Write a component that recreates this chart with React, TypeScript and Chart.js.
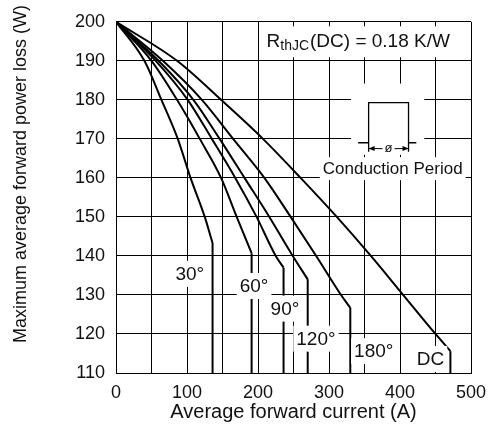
import React, { useEffect, useRef } from 'react';
import { Chart, registerables } from 'chart.js';

Chart.register(...registerables);

// ---- data ----
const xMin = 0;
const xMax = 500;
const yMin = 110;
const yMax = 200;
const xStep = 50;
const yStep = 10;

const curveNames = ['30°', '60°', '90°', '120°', '180°', 'DC'];

const i30 = [0, 40, 64, 87, 105, 125, 136];
const p30 = [200, 190, 180, 170, 160, 150, 143.3];
const i60 = [0, 50, 86, 118, 148, 170, 191];
const p60 = [200, 190, 180, 170, 160, 150, 140.7];
const i90 = [0, 56, 101, 135, 168, 198, 225, 236];
const p90 = [200, 190, 180, 170, 160, 150, 140, 137];
const i120 = [0, 60, 109, 146, 181, 216, 249, 270];
const p120 = [200, 190, 180, 170, 160, 150, 140, 134];
const i180 = [0, 66, 121, 165, 209, 246, 282, 317, 330];
const p180 = [200, 190, 180, 170, 160, 150, 140, 130, 126.7];
const iDC = [0, 86, 148, 207, 260, 311, 359, 400, 450, 471];
const pDC = [200, 190, 180, 170, 160, 150, 140, 131, 120, 115.6];

const curveI = [i30, i60, i90, i120, i180, iDC];
const curveP = [p30, p60, p90, p120, p180, pDC];

// label anchor positions (data units)
const labelX = [104, 194.5, 238, 281.6, 363, 443];
const labelY = [135.4, 132.3, 126.5, 118.8, 115.6, 113.6];

const rthMain = 'R';
const rthSub = 'thJC';
const rthRest = '(DC) = 0.18 K/W';
const rthX = 212;
const rthY = 195;

const insetText = 'Conduction Period';
const insetTextX = 389.7;
const insetTextY = 162.5;
const pulseX = [341, 355.8, 412, 423];
const pulseLow = 169;
const pulseHigh = 179.3;
const pulseTickBottom = 166.7;
const dimY = 167.5;
const dimSymbol = 'ø';

const xTitle = 'Average forward current (A)';
const yTitle = 'Maximum average forward power loss (W)';
const yTitleCenter = 161; // data value the vertical title is centred on

const FONT = "'Liberation Sans', Arial, Helvetica, sans-serif";

const annotations = {
  id: 'annotations',
  afterDraw(chart: any) {
    const { ctx, scales } = chart;
    const y = scales.y;
    ctx.save();
    ctx.translate(21, y.getPixelForValue(yTitleCenter));
    ctx.rotate(-Math.PI / 2);
    ctx.font = `18px ${FONT}`;
    ctx.textAlign = 'center';
    ctx.textBaseline = 'middle';
    ctx.fillStyle = '#111';
    ctx.fillText(yTitle, 0, 0);
    ctx.restore();
  },
  afterDatasetsDraw(chart: any) {
    const { ctx, scales } = chart;
    const x = scales.x;
    const y = scales.y;
    ctx.save();
    ctx.textBaseline = 'middle';

    // curve labels with white boxes
    ctx.font = `19px ${FONT}`;
    ctx.textAlign = 'center';
    curveNames.forEach((name, k) => {
      const cx = x.getPixelForValue(labelX[k]);
      const cy = y.getPixelForValue(labelY[k]);
      const w = ctx.measureText(name).width;
      ctx.fillStyle = '#fff';
      ctx.fillRect(cx - w / 2 - 3, cy - 13, w + 6, 26);
      ctx.fillStyle = '#111';
      ctx.fillText(name, cx, cy + 1);
    });

    // Rth text
    const rx = x.getPixelForValue(rthX);
    const ry = y.getPixelForValue(rthY);
    ctx.textAlign = 'left';
    ctx.font = `19px ${FONT}`;
    const wR = ctx.measureText(rthMain).width;
    const wRest = ctx.measureText(rthRest).width;
    ctx.font = `14px ${FONT}`;
    const wSub = ctx.measureText(rthSub).width;
    const total = wR + wSub + wRest;
    ctx.fillStyle = '#fff';
    ctx.fillRect(rx - 5, ry - 15, total + 12, 31);
    ctx.fillStyle = '#111';
    ctx.font = `19px ${FONT}`;
    ctx.fillText(rthMain, rx, ry);
    ctx.font = `14px ${FONT}`;
    ctx.fillText(rthSub, rx + wR, ry + 5);
    ctx.font = `19px ${FONT}`;
    ctx.fillText(rthRest, rx + wR + wSub + 1, ry);

    // inset: pulse symbol
    const px = pulseX.map((v) => x.getPixelForValue(v));
    const yLow = y.getPixelForValue(pulseLow);
    const yHigh = y.getPixelForValue(pulseHigh);
    const yTick = y.getPixelForValue(pulseTickBottom);
    const yDim = y.getPixelForValue(dimY);
    ctx.fillStyle = '#fff';
    ctx.fillRect(px[0] - 7, yHigh - 19, px[3] - px[0] + 15, yTick - yHigh + 22);

    ctx.font = `17px ${FONT}`;
    ctx.textAlign = 'center';
    const tx = x.getPixelForValue(insetTextX);
    const ty = y.getPixelForValue(insetTextY);
    const tw = ctx.measureText(insetText).width;
    ctx.fillStyle = '#fff';
    ctx.fillRect(tx - tw / 2 - 3, ty - 11, tw + 6, 23);
    ctx.fillStyle = '#111';
    ctx.fillText(insetText, tx, ty + 1);

    ctx.strokeStyle = '#000';
    ctx.lineWidth = 1.3;
    ctx.beginPath();
    ctx.moveTo(px[0], yLow);
    ctx.lineTo(px[1], yLow);
    ctx.moveTo(px[1], yTick);
    ctx.lineTo(px[1], yHigh);
    ctx.lineTo(px[2], yHigh);
    ctx.lineTo(px[2], yTick);
    ctx.moveTo(px[2], yLow);
    ctx.lineTo(px[3], yLow);
    ctx.stroke();

    // dimension arrows
    const mid = (px[1] + px[2]) / 2;
    ctx.lineWidth = 1;
    ctx.beginPath();
    ctx.moveTo(px[1], yDim);
    ctx.lineTo(mid - 6, yDim);
    ctx.moveTo(mid + 6, yDim);
    ctx.lineTo(px[2], yDim);
    ctx.stroke();
    ctx.fillStyle = '#000';
    ctx.beginPath();
    ctx.moveTo(px[1], yDim);
    ctx.lineTo(px[1] + 6, yDim - 2.5);
    ctx.lineTo(px[1] + 6, yDim + 2.5);
    ctx.closePath();
    ctx.fill();
    ctx.beginPath();
    ctx.moveTo(px[2], yDim);
    ctx.lineTo(px[2] - 6, yDim - 2.5);
    ctx.lineTo(px[2] - 6, yDim + 2.5);
    ctx.closePath();
    ctx.fill();
    ctx.font = `13px ${FONT}`;
    ctx.fillStyle = '#111';
    ctx.fillText(dimSymbol, mid, yDim);

    ctx.restore();
  },
};

export default function App() {
  const ref = useRef<HTMLCanvasElement | null>(null);

  useEffect(() => {
    document.body.style.margin = '0';
    const canvas = ref.current;
    if (!canvas) return;
    Chart.defaults.font.family = FONT;

    const datasets: any[] = [];
    curveI.forEach((xs, k) => {
      const ps = curveP[k];
      datasets.push({
        label: curveNames[k],
        data: xs.map((v, j) => ({ x: v, y: ps[j] })),
        borderColor: '#000',
        borderWidth: 2,
        pointRadius: 0,
        fill: false,
        cubicInterpolationMode: 'monotone',
      });
      const last = xs.length - 1;
      datasets.push({
        label: curveNames[k] + ' limit',
        data: [
          { x: xs[last], y: ps[last] },
          { x: xs[last], y: yMin },
        ],
        borderColor: '#000',
        borderWidth: 2,
        pointRadius: 0,
        fill: false,
        tension: 0,
      });
    });

    const chart = new Chart(canvas, {
      type: 'line',
      data: { datasets },
      plugins: [annotations],
      options: {
        responsive: false,
        animation: false,
        layout: { padding: { left: 0, right: 26, top: 17, bottom: 0 } },
        plugins: { legend: { display: false }, tooltip: { enabled: false } },
        scales: {
          x: {
            type: 'linear',
            min: xMin,
            max: xMax,
            ticks: {
              stepSize: xStep,
              autoSkip: false,
              maxRotation: 0,
              padding: 9,
              color: '#111',
              font: { size: 18 },
              callback: (v: any) => (Number(v) % 100 === 0 ? String(v) : ''),
            },
            grid: { color: '#000', lineWidth: 1, drawTicks: false },
            border: { color: '#000', width: 1 },
            title: {
              display: true,
              text: xTitle,
              color: '#111',
              font: { size: 20 },
              padding: { top: 0, bottom: 19 },
            },
            afterFit: (s: any) => {
              s.height = 70;
            },
          },
          y: {
            type: 'linear',
            min: yMin,
            max: yMax,
            ticks: {
              stepSize: yStep,
              padding: 11,
              color: '#111',
              font: { size: 18 },
            },
            grid: { color: '#000', lineWidth: 1, drawTicks: false },
            border: { color: '#000', width: 1 },
            title: { display: false },
            afterFit: (s: any) => {
              s.width = 116;
            },
          },
        },
      },
    });
    return () => chart.destroy();
  }, []);

  return <canvas ref={ref} width={497} height={443} style={{ display: 'block' }} />;
}
